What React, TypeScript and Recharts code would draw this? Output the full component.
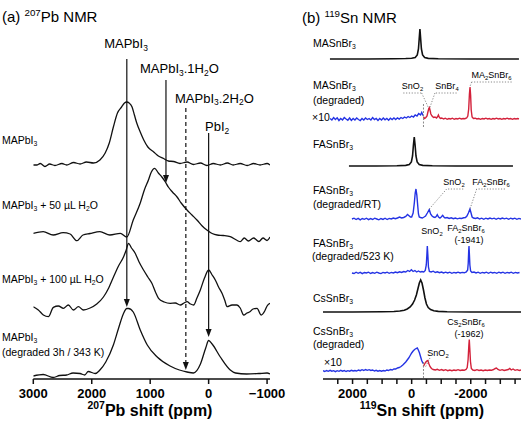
import React from "react";
import { LineChart, Line, XAxis, YAxis, ReferenceLine, ReferenceDot } from "recharts";

const FONT = "'Liberation Sans', Arial, Helvetica, sans-serif";
const INK = "#111";
const BLUE = "#2433e4";
const RED = "#d3213a";
const GREY = "#8a8a8a";

// (a) 207Pb spectra, [shift ppm, intensity]
const pbPure = [
  [3000, 0], [2940, 0], [2880, 1.5], [2800, -1.5], [2720, 1], [2630, -0.5], [2510, 1.5], [2430, 0],
  [2310, 2.5], [2200, 1], [2090, 3], [1970, 2], [1860, 5], [1770, 12], [1700, 22], [1630, 38],
  [1560, 52], [1490, 58], [1440, 62], [1400, 63], [1360, 62], [1310, 58], [1270, 50], [1230, 42],
  [1170, 33], [1110, 25], [1040, 18], [940, 13], [860, 9], [770, 6.5], [690, 4], [600, 3.5],
  [490, 1.5], [370, 3], [260, 0.5], [140, 2], [30, -0.5], [-80, 1.5], [-200, 0], [-320, 2],
  [-420, 0], [-540, 1.5], [-660, -0.5], [-770, 1.5], [-880, 0], [-1000, 1.5], [-1050, 0],
];
const pbWet50 = [
  [3000, 1.7], [2830, 3.3], [2660, 0], [2490, 2.3], [2370, 1], [2256, -5.7], [2150, 0], [2030, 1.5],
  [1860, 3.3], [1690, 0], [1510, 1.7], [1400, -2], [1290, 15], [1170, 32], [1100, 45], [1030, 55],
  [980, 63], [925, 66.7], [860, 62], [800, 58], [740, 53], [690, 48], [620, 43], [540, 38],
  [470, 32], [370, 25], [285, 20], [200, 15], [110, 9], [30, 5], [-60, 1.5], [-145, 0],
  [-250, -0.5], [-370, -1.7], [-490, -5.5], [-540, -6.7], [-610, -3], [-680, -6], [-770, -3],
  [-860, -6.5], [-930, -3], [-1000, -5.5], [-1050, -2],
];
const pbWet100 = [
  [3000, 1.3], [2914, -2], [2828, -7], [2742, -8.7], [2657, 0.7], [2571, 2], [2485, -0.3], [2400, 3],
  [2314, -2], [2228, 1.3], [2142, -2], [2028, 0], [1914, 4], [1800, 11], [1710, 20], [1628, 31],
  [1542, 42], [1457, 51], [1410, 58], [1371, 64.7], [1320, 60], [1257, 54.7], [1190, 46], [1114, 38],
  [1040, 31], [971, 24.7], [910, 16], [857, 9.7], [760, 6], [657, 4.7], [570, 5], [485, 3],
  [420, 5], [370, 6.3], [310, 4], [257, 3], [200, 10], [142, 18], [71, 30], [0, 38],
  [-60, 33], [-114, 28], [-170, 21], [-229, 14.7], [-280, 7], [-314, 1.3], [-400, 3], [-485, 3],
  [-540, 0], [-600, -7], [-657, -5], [-700, -4], [-760, -1], [-828, -0.3], [-900, -7], [-960, -3],
  [-1000, 2], [-1050, 4.7],
];
const pbDegraded = [
  [3000, 0], [2830, 1.5], [2660, -1.5], [2550, 0.5], [2430, 1], [2320, 3], [2200, 2.5], [2120, 1],
  [2060, 4.5], [1940, 2.5], [1860, 6], [1760, 14], [1630, 31], [1540, 48], [1460, 62], [1400, 67.5],
  [1370, 67.5], [1290, 64], [1170, 46], [1050, 31], [880, 19], [660, 10], [500, 6], [370, 4],
  [260, 3], [140, 12], [50, 28], [0, 35.5], [-60, 32], [-200, 19], [-370, 6], [-460, 3],
  [-650, 2], [-860, 2.5], [-1000, 3], [-1050, 2],
];
const pbTicks = [3000, 2000, 1000, 0, -1000];

// (b) 119Sn spectra, [shift ppm, intensity]
const maSn = [
  [2765, 0], [1500, 0], [600, 0.2], [200, 0.5], [0, 0.8], [-120, 1.5], [-190, 4], [-230, 10],
  [-255, 20], [-280, 30], [-305, 20], [-330, 10], [-370, 4], [-440, 1.5], [-560, 0.6], [-900, 0.2],
  [-2000, 0], [-3630, 0],
];
const maSnDegBlue = [
  [2760, 0.5], [2700, -1], [2640, 1.5], [2580, -0.5], [2520, 1.2], [2460, -1.5], [2400, 0.5], [2340, -1],
  [2280, 1.5], [2220, 0], [2160, -1.2], [2100, 1], [2040, -1.5], [1980, 0.5], [1920, -1], [1860, 1],
  [1800, -0.5], [1740, -1.5], [1680, 0.5], [1620, -1], [1560, 1], [1500, -0.5], [1440, 0.5], [1380, -1],
  [1320, 1.5], [1260, -0.5], [1200, 0.5], [1140, -1.5], [1080, 0.5], [1020, -1], [960, 1], [900, -0.8],
  [840, 0.5], [780, -1.2], [720, 0.8], [660, -0.5], [600, 1], [540, -0.5], [480, 1.2], [420, 0],
  [360, 1.5], [300, 0.5], [240, 2], [180, 1], [120, 2.5], [60, 1.5], [0, 3], [-60, 2],
  [-120, 4], [-180, 3], [-240, 5.5], [-300, 4], [-340, 6.5], [-370, 4.5], [-400, 3],
];
const maSnDegRed = [
  [-400, 2], [-440, 0.5], [-480, 1.5], [-520, 3], [-550, 7], [-580, 10.5], [-600, 11.5], [-620, 9],
  [-650, 5], [-690, 3], [-740, 1.5], [-790, 2], [-840, 1], [-880, 2.5], [-905, 4], [-930, 2],
  [-970, 0.5], [-1020, 1], [-1080, 0], [-1140, 0.8], [-1200, -0.3], [-1260, 0.5], [-1320, 0], [-1380, 0.8],
  [-1440, -0.3], [-1500, 0.5], [-1560, 0], [-1620, 0.8], [-1680, 0], [-1740, 0.5], [-1800, 0.3], [-1860, 1],
  [-1900, 3], [-1930, 10], [-1955, 25], [-1975, 32], [-1995, 24], [-2015, 9], [-2045, 2], [-2090, 0.5],
  [-2150, 0.8], [-2210, 0], [-2270, 0.5], [-2330, -0.3], [-2390, 0.5], [-2450, 0], [-2510, 0.8], [-2570, 0],
  [-2630, 0.5], [-2690, -0.3], [-2750, 0.5], [-2810, 0], [-2870, 0.8], [-2930, 0], [-2990, 0.5], [-3050, -0.3],
  [-3110, 0.5], [-3170, 0], [-3230, 0.8], [-3290, 0], [-3350, 0.5], [-3410, -0.3], [-3470, 0.5], [-3530, 0],
  [-3590, 0.5], [-3630, 0],
];
const faSn = [
  [2122, 0], [1200, 0], [500, 0.2], [200, 0.6], [80, 1.5], [10, 4], [-30, 10], [-60, 21],
  [-88, 29], [-116, 21], [-146, 10], [-186, 4], [-256, 1.5], [-376, 0.6], [-700, 0.2], [-1500, 0],
  [-3428, 0],
];
const faSnRT = [
  [2020, 0], [1950, 0.8], [1880, -0.5], [1810, 0.6], [1740, -0.8], [1670, 0.5], [1600, -0.3], [1530, 0.8],
  [1460, -0.6], [1390, 0.4], [1320, -0.5], [1250, 0.8], [1180, 0], [1110, -0.8], [1040, 0.5], [970, -0.4],
  [900, 0.8], [830, -0.5], [760, 0.6], [690, 0], [620, 1], [550, 0.3], [480, 1], [410, 2],
  [340, 1], [270, 1.5], [200, 2.5], [140, 4.5], [100, 3.5], [40, 2], [0, 2], [-50, 6],
  [-90, 16], [-120, 26], [-146, 30], [-175, 24], [-203, 14], [-230, 5], [-257, 2], [-300, 1.5],
  [-360, 1], [-420, 2], [-470, 3], [-530, 6], [-596, 9.5], [-640, 5], [-690, 3], [-740, 2],
  [-788, 1.5], [-830, 2.5], [-866, 4.3], [-910, 2], [-958, 1], [-1000, 2], [-1049, 3.6], [-1090, 2],
  [-1130, 1], [-1200, 1.5], [-1270, 0.5], [-1340, 1.2], [-1410, 0.3], [-1480, 1], [-1550, 0.2], [-1620, 0.8],
  [-1690, 0.5], [-1760, 1.2], [-1820, 1.5], [-1870, 3], [-1920, 6], [-1973, 10], [-2010, 6], [-2045, 2],
  [-2090, 1], [-2160, 0.5], [-2230, 1.2], [-2300, 0], [-2370, 0.8], [-2440, -0.3], [-2510, 0.8], [-2580, 0],
  [-2650, 1], [-2720, 0.2], [-2790, 0.8], [-2860, -0.3], [-2930, 0.8], [-3000, 0], [-3070, 1], [-3140, 0.2],
  [-3210, 0.8], [-3280, -0.3], [-3350, 0.8], [-3420, 0], [-3490, 0.8], [-3560, -0.3], [-3630, 0.6], [-3700, 0],
];
const faSn523 = [
  [2020, 0], [1950, -0.5], [1880, 0.8], [1810, -0.3], [1740, 0.6], [1670, -0.6], [1600, 0.5], [1530, 0],
  [1460, 0.8], [1390, -0.5], [1320, 0.5], [1250, -0.3], [1180, 0.8], [1110, 0], [1040, -0.6], [970, 0.6],
  [900, 0], [830, 0.8], [760, -0.3], [690, 0.6], [620, 0], [550, 1], [480, 0.3], [410, 1.2],
  [340, 0.5], [270, 1.5], [200, 1], [130, 2.5], [70, 1.5], [10, 3.3], [-50, 1.5], [-110, 2.5],
  [-170, 1], [-230, 2], [-290, 1], [-350, 1.5], [-410, 1], [-460, 2.5], [-495, 8], [-515, 18],
  [-530, 27], [-548, 18], [-568, 6], [-600, 1.5], [-660, 1], [-730, 1.8], [-800, 0.5], [-870, 1.2],
  [-940, 0.3], [-1010, 1], [-1080, 0], [-1150, 0.8], [-1220, 0], [-1290, 0.8], [-1360, -0.3], [-1430, 0.6],
  [-1500, 0], [-1570, 0.8], [-1640, 0], [-1710, 0.6], [-1780, 0.2], [-1850, 1], [-1895, 3], [-1915, 10],
  [-1930, 22], [-1940, 27], [-1952, 20], [-1970, 8], [-1995, 2], [-2040, 0.5], [-2110, 1], [-2180, 0],
  [-2250, 0.8], [-2320, -0.3], [-2390, 0.6], [-2460, 0], [-2530, 0.8], [-2600, -0.3], [-2670, 0.8], [-2740, 0],
  [-2810, 0.6], [-2880, -0.3], [-2950, 0.8], [-3020, 0], [-3090, 0.8], [-3160, -0.3], [-3230, 0.6], [-3300, 0],
  [-3370, 0.8], [-3440, -0.3], [-3510, 0.6], [-3580, 0], [-3650, 0.5],
];
const csSn = [
  [3000, 0], [2000, 0], [1000, 0.2], [600, 0.5], [400, 1], [250, 1.8], [150, 3], [50, 5],
  [-30, 8], [-100, 12], [-160, 17], [-210, 23], [-260, 29], [-305, 32], [-350, 29], [-400, 22],
  [-450, 14], [-500, 8], [-560, 4.5], [-640, 2.5], [-750, 1.3], [-900, 0.6], [-1200, 0.2], [-2000, 0],
  [-3700, 0],
];
const csSnDegBlue = [
  [3000, 0.8], [2940, 0], [2880, 1], [2820, 0.2], [2760, 1.2], [2700, 0.3], [2640, 0.8], [2580, -0.2],
  [2520, 0.8], [2460, 0.2], [2400, 1.2], [2340, 0.3], [2280, 1], [2220, 0], [2160, 0.8], [2100, 0.3],
  [2040, 1.2], [1980, 0.5], [1920, 1], [1860, 0.5], [1800, 1.5], [1740, 0.8], [1680, 1.8], [1620, 1],
  [1560, 2], [1500, 1.2], [1440, 1.8], [1380, 1], [1320, 1.5], [1260, 0.5], [1200, 1.2], [1140, 0.3],
  [1080, 1], [1020, 0.3], [960, 1], [900, 0.5], [840, 1.5], [780, 1], [720, 2], [660, 1.5],
  [600, 2.5], [540, 2.5], [480, 3.5], [420, 4], [360, 5], [300, 6.5], [250, 8], [200, 9.5],
  [150, 11.5], [100, 13.5], [50, 16], [0, 18.5], [-50, 20.5], [-100, 22], [-150, 23], [-190, 23.5],
  [-225, 21.5], [-260, 19], [-300, 15], [-340, 11], [-370, 9], [-395, 8],
];
const csSnDegRed = [
  [-395, 5], [-430, 7], [-470, 9], [-510, 10.5], [-550, 11], [-580, 8], [-620, 5], [-670, 3],
  [-730, 2], [-800, 1.5], [-870, 2.2], [-940, 1.2], [-1010, 2], [-1080, 1], [-1150, 1.8], [-1220, 0.8],
  [-1290, 1.5], [-1360, 0.8], [-1430, 1.5], [-1500, 1], [-1570, 1.8], [-1640, 1], [-1710, 1.5], [-1780, 1.2],
  [-1840, 2], [-1880, 4], [-1910, 12], [-1935, 26], [-1950, 32], [-1965, 24], [-1990, 10], [-2020, 3],
  [-2070, 1.5], [-2140, 1], [-2210, 1.8], [-2280, 1], [-2350, 1.5], [-2420, 0.8], [-2490, 1.5], [-2560, 1],
  [-2630, 1.5], [-2700, 1.2], [-2770, 2], [-2830, 3], [-2870, 3.5], [-2920, 2], [-2990, 1.2], [-3060, 1.8],
  [-3130, 1], [-3200, 1.5], [-3270, 2], [-3320, 3], [-3370, 1.5], [-3430, 2.5], [-3500, 1.2], [-3570, 1.8],
  [-3640, 1], [-3700, 1.5],
];
const snTicks = [2500, 2000, 1500, 1000, 500, 0, -500, -1000, -1500, -2000, -2500, -3000, -3500];
const snTickLabels = [2000, 0, -2000];

// shift each spectrum up to its own row
const stack = (pts: number[][], base: number) => pts.map(([ppm, v]) => ({ ppm, y: base + v }));

const Arrowhead = (p: any) => <path d={`M${p.cx},${p.cy} l-3,-8 l6,0 z`} fill={INK} />;

type Part = string | [string, "sub" | "sup"];

function Rich({ x, y, size, parts, anchor = "start", bold = false }: {
  x: number; y: number; size: number; parts: Part[]; anchor?: "start" | "middle" | "end"; bold?: boolean;
}) {
  let shift = 0;
  return (
    <text x={x} y={y} fontSize={size} textAnchor={anchor} fontWeight={bold ? 700 : 400} fill="#000">
      {parts.map((p, k) => {
        const [t, kind] = typeof p === "string" ? [p, null] : p;
        const target = kind === "sub" ? size * 0.22 : kind === "sup" ? -size * 0.42 : 0;
        const dy = target - shift;
        shift = target;
        return (
          <tspan key={k} dy={dy} fontSize={kind ? size * 0.65 : size}>
            {t}
          </tspan>
        );
      })}
    </text>
  );
}

const tickStyle = { fontSize: 13, fontWeight: 700, fill: "#000", fontFamily: FONT };
const axisStyle = { stroke: INK, strokeWidth: 1.5 };

function Leader({ pts, dash = "1.2 1.6", color = GREY }: { pts: number[][]; dash?: string; color?: string }) {
  return (
    <>
      {pts.slice(1).map((p, k) => (
        <ReferenceLine
          key={k}
          segment={[{ x: pts[k][0], y: pts[k][1] }, { x: p[0], y: p[1] }]}
          stroke={color}
          strokeWidth={1}
          strokeDasharray={dash}
        />
      ))}
    </>
  );
}

export default function App() {
  return (
    <div style={{ position: "absolute", left: 0, top: 0, width: 524, height: 424, background: "#fff", fontFamily: FONT }}>
      <div style={{ position: "absolute", left: 0, top: 0 }}>
        <LineChart width={300} height={424} margin={{ top: 0, right: 30, bottom: 15, left: 33.3 }}>
          <XAxis
            type="number"
            dataKey="ppm"
            domain={[-1050, 3000]}
            reversed
            allowDataOverflow
            ticks={pbTicks}
            interval={0}
            tickFormatter={(v: number) => (v < 0 ? `\u2212${-v}` : String(v))}
            tick={tickStyle}
            tickSize={5}
            tickMargin={5}
            height={30}
            axisLine={axisStyle}
            tickLine={axisStyle}
          />
          <YAxis hide type="number" domain={[0, 379]} allowDataOverflow />
          <Line data={stack(pbPure, 214)} dataKey="y" type="monotone" dot={false} stroke={INK} strokeWidth={1.3} isAnimationActive={false} />
          <Line data={stack(pbWet50, 144)} dataKey="y" type="monotone" dot={false} stroke={INK} strokeWidth={1.3} isAnimationActive={false} />
          <Line data={stack(pbWet100, 71)} dataKey="y" type="monotone" dot={false} stroke={INK} strokeWidth={1.3} isAnimationActive={false} />
          <Line data={stack(pbDegraded, 3)} dataKey="y" type="monotone" dot={false} stroke={INK} strokeWidth={1.3} isAnimationActive={false} />
          <ReferenceLine segment={[{ x: 1400, y: 320 }, { x: 1400, y: 76 }]} stroke={INK} strokeWidth={1.2} />
          <ReferenceDot x={1400} y={72} shape={Arrowhead} />
          <ReferenceLine segment={[{ x: 730, y: 299 }, { x: 730, y: 200 }]} stroke={INK} strokeWidth={1.2} />
          <ReferenceDot x={730} y={196} shape={Arrowhead} />
          <ReferenceLine segment={[{ x: 390, y: 271 }, { x: 390, y: 13 }]} stroke={INK} strokeWidth={1.2} strokeDasharray="4 3" />
          <ReferenceDot x={390} y={9} shape={Arrowhead} />
          <ReferenceLine segment={[{ x: 0, y: 246 }, { x: 0, y: 46 }]} stroke={INK} strokeWidth={1.2} />
          <ReferenceDot x={0} y={42} shape={Arrowhead} />
        </LineChart>
      </div>

      <div style={{ position: "absolute", left: 300, top: 0 }}>
        <LineChart width={224} height={424} margin={{ top: 0, right: 3, bottom: 15, left: 23 }}>
          <XAxis
            type="number"
            dataKey="ppm"
            domain={[-3700, 3000]}
            reversed
            allowDataOverflow
            ticks={snTicks}
            interval={0}
            tickFormatter={(v: number) => (snTickLabels.includes(v) ? String(v) : "")}
            tick={tickStyle}
            tickSize={5}
            tickMargin={5}
            height={30}
            axisLine={axisStyle}
            tickLine={axisStyle}
          />
          <YAxis hide type="number" domain={[0, 379]} allowDataOverflow />
          <Line data={stack(maSn, 320)} dataKey="y" dot={false} stroke={INK} strokeWidth={1.6} isAnimationActive={false} />
          <Line data={stack(maSnDegBlue, 260)} dataKey="y" dot={false} stroke={BLUE} strokeWidth={1.4} isAnimationActive={false} />
          <Line data={stack(maSnDegRed, 260)} dataKey="y" dot={false} stroke={RED} strokeWidth={1.4} isAnimationActive={false} />
          <Line data={stack(faSn, 213)} dataKey="y" dot={false} stroke={INK} strokeWidth={1.6} isAnimationActive={false} />
          <Line data={stack(faSnRT, 160)} dataKey="y" dot={false} stroke={BLUE} strokeWidth={1.4} isAnimationActive={false} />
          <Line data={stack(faSn523, 106)} dataKey="y" dot={false} stroke={BLUE} strokeWidth={1.4} isAnimationActive={false} />
          <Line data={stack(csSn, 67)} dataKey="y" dot={false} stroke={INK} strokeWidth={1.6} isAnimationActive={false} />
          <Line data={stack(csSnDegBlue, 7.5)} dataKey="y" dot={false} stroke={BLUE} strokeWidth={1.4} isAnimationActive={false} />
          <Line data={stack(csSnDegRed, 7.5)} dataKey="y" dot={false} stroke={RED} strokeWidth={1.4} isAnimationActive={false} />
          <Leader pts={[[-400, 275], [-400, 252]]} dash="2 1.5" />
          <Leader pts={[[-400, 17], [-400, 1]]} dash="2 1.5" />
          <Leader pts={[[284, 286], [-338, 286], [-562, 271.7]]} />
          <Leader pts={[[-1523, 286], [-788, 286], [-619, 271.7]]} />
          <Leader pts={[[-3384, 297], [-2030, 297], [-1973, 292.5]]} />
          <Leader pts={[[-1746, 190], [-1184, 190], [-596, 170]]} />
          <Leader pts={[[-3157, 190], [-2200, 190], [-1973, 170]]} />
          <Leader pts={[[-619, 21], [-450, 11]]} />
        </LineChart>
      </div>

      <svg width={524} height={424} style={{ position: "absolute", left: 0, top: 0, fontFamily: FONT, pointerEvents: "none" }}>
        <Rich x={2} y={22} size={15} parts={["(a) ", ["207", "sup"], "Pb NMR"]} />
        <Rich x={302} y={23} size={15} parts={["(b) ", ["119", "sup"], "Sn NMR"]} />

        <Rich x={126} y={48} size={13} anchor="middle" parts={["MAPbI", ["3", "sub"]]} />
        <Rich x={140} y={73} size={13} parts={["MAPbI", ["3", "sub"], ".1H", ["2", "sub"], "O"]} />
        <Rich x={175} y={102.5} size={13} parts={["MAPbI", ["3", "sub"], ".2H", ["2", "sub"], "O"]} />
        <Rich x={205} y={131} size={13} parts={["PbI", ["2", "sub"]]} />

        <Rich x={2} y={144} size={10.5} parts={["MAPbI", ["3", "sub"]]} />
        <Rich x={2} y={209} size={10.5} parts={["MAPbI", ["3", "sub"], " + 50 \u00b5L H", ["2", "sub"], "O"]} />
        <Rich x={2} y={283} size={10.5} parts={["MAPbI", ["3", "sub"], " + 100 \u00b5L H", ["2", "sub"], "O"]} />
        <Rich x={2} y={341} size={10.5} parts={["MAPbI", ["3", "sub"]]} />
        <Rich x={2} y={355.5} size={10.5} parts={["(degraded 3h / 343 K)"]} />

        <Rich x={313} y={47} size={10.5} parts={["MASnBr", ["3", "sub"]]} />
        <Rich x={313} y={89} size={10.5} parts={["MASnBr", ["3", "sub"]]} />
        <Rich x={313} y={103.5} size={10.5} parts={["(degraded)"]} />
        <Rich x={312} y={121} size={10.5} parts={["\u00d710"]} />
        <Rich x={313} y={147.5} size={10.5} parts={["FASnBr", ["3", "sub"]]} />
        <Rich x={313} y={193.5} size={10.5} parts={["FASnBr", ["3", "sub"]]} />
        <Rich x={313} y={207.5} size={10.5} parts={["(degraded/RT)"]} />
        <Rich x={313} y={246.5} size={10.5} parts={["FASnBr", ["3", "sub"]]} />
        <Rich x={312} y={260} size={10.5} parts={["(degraded/523 K)"]} />
        <Rich x={313} y={302} size={10.5} parts={["CsSnBr", ["3", "sub"]]} />
        <Rich x={313} y={334.5} size={10.5} parts={["CsSnBr", ["3", "sub"]]} />
        <Rich x={313} y={348} size={10.5} parts={["(degraded)"]} />
        <Rich x={324} y={365.5} size={10.5} parts={["\u00d710"]} />

        <Rich x={412.5} y={89} size={9} anchor="middle" parts={["SnO", ["2", "sub"]]} />
        <Rich x={447} y={89} size={9} anchor="middle" parts={["SnBr", ["4", "sub"]]} />
        <Rich x={491.5} y={78} size={9} anchor="middle" parts={["MA", ["2", "sub"], "SnBr", ["6", "sub"]]} />
        <Rich x={454} y={185} size={9} anchor="middle" parts={["SnO", ["2", "sub"]]} />
        <Rich x={491} y={185} size={9} anchor="middle" parts={["FA", ["2", "sub"], "SnBr", ["6", "sub"]]} />
        <Rich x={432} y={234} size={9} anchor="middle" parts={["SnO", ["2", "sub"]]} />
        <Rich x={466} y={231} size={9} anchor="middle" parts={["FA", ["2", "sub"], "SnBr", ["6", "sub"]]} />
        <Rich x={469} y={243} size={9} anchor="middle" parts={["(-1941)"]} />
        <Rich x={466} y={325} size={9} anchor="middle" parts={["Cs", ["2", "sub"], "SnBr", ["6", "sub"]]} />
        <Rich x={469} y={337} size={9} anchor="middle" parts={["(-1962)"]} />
        <Rich x={438} y={356} size={9} anchor="middle" parts={["SnO", ["2", "sub"]]} />

        <Rich x={150} y={416} size={16} anchor="middle" bold parts={[["207", "sup"], "Pb shift (ppm)"]} />
        <Rich x={422} y={416} size={16} anchor="middle" bold parts={[["119", "sup"], "Sn shift (ppm)"]} />
      </svg>
    </div>
  );
}
